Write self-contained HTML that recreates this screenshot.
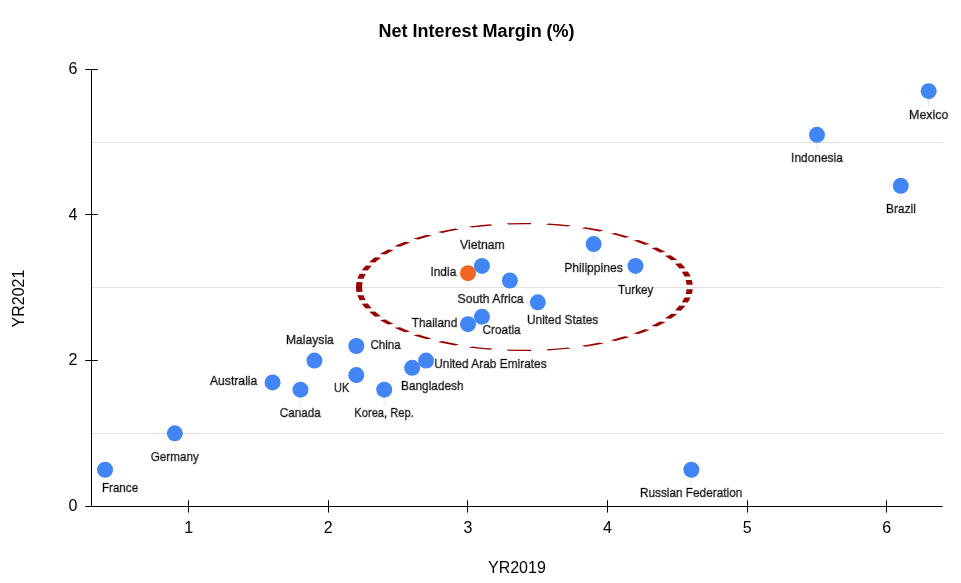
<!DOCTYPE html>
<html><head><meta charset="utf-8"><title>Net Interest Margin (%)</title>
<style>
html,body{margin:0;padding:0;background:#fff;}
body{width:961px;height:583px;overflow:hidden;}
svg{display:block;}
text{font-family:"Liberation Sans",sans-serif;}
.lab{font-size:12.4px;fill:#000;stroke:#000;stroke-width:0.7px;}
.tick{font-size:16px;fill:#000;}
.axt{font-size:16px;fill:#000;}
.ttl{font-size:18px;font-weight:bold;fill:#000;}
</style></head><body>
<svg width="961" height="583" viewBox="0 0 961 583">
<rect width="961" height="583" fill="#fff"/>
<text class="ttl" x="378.6" y="36.8">Net Interest Margin (%)</text>
<rect x="92" y="433" width="850.6" height="1" fill="#e2e2e2"/>
<rect x="92" y="287" width="850.6" height="1" fill="#e2e2e2"/>
<rect x="92" y="142" width="850.6" height="1" fill="#e2e2e2"/>
<rect x="174.24" y="433.40" width="1" height="16.00" fill="#e9e9e9"/>
<rect x="299.88" y="389.72" width="1" height="16.00" fill="#e9e9e9"/>
<rect x="383.64" y="389.72" width="1" height="16.00" fill="#e9e9e9"/>
<rect x="593.04" y="244.12" width="1" height="16.00" fill="#e9e9e9"/>
<rect x="634.92" y="265.96" width="1" height="16.00" fill="#e9e9e9"/>
<rect x="690.76" y="469.80" width="1" height="16.00" fill="#e9e9e9"/>
<rect x="816.40" y="134.92" width="1" height="16.00" fill="#e9e9e9"/>
<rect x="900.16" y="185.88" width="1" height="16.00" fill="#e9e9e9"/>
<rect x="928.08" y="91.24" width="1" height="16.00" fill="#e9e9e9"/>
<g transform="translate(524.4,287.0) scale(4.86,1)"><path d="M -34.02,0 A 34.02 63.4 0 0 1 34.02,0 M -34.02,0 A 34.02 63.4 0 0 0 34.02,0" fill="none" stroke="#990000" stroke-width="1.26" stroke-dasharray="4.9 3.4"/></g>
<rect x="91" y="69" width="1" height="438" fill="#000"/>
<rect x="85.2" y="506" width="857.4" height="1" fill="#000"/>
<rect x="85.2" y="360" width="12.6" height="1" fill="#000"/>
<rect x="85.2" y="214" width="12.6" height="1" fill="#000"/>
<rect x="85.2" y="69" width="12.6" height="1" fill="#000"/>
<rect x="188" y="500.3" width="1" height="12.3" fill="#000"/>
<rect x="328" y="500.3" width="1" height="12.3" fill="#000"/>
<rect x="467" y="500.3" width="1" height="12.3" fill="#000"/>
<rect x="607" y="500.3" width="1" height="12.3" fill="#000"/>
<rect x="747" y="500.3" width="1" height="12.3" fill="#000"/>
<rect x="886" y="500.3" width="1" height="12.3" fill="#000"/>
<text class="tick" x="77.4" y="511" text-anchor="end">0</text>
<text class="tick" x="77.4" y="365" text-anchor="end">2</text>
<text class="tick" x="77.4" y="220" text-anchor="end">4</text>
<text class="tick" x="77.4" y="74" text-anchor="end">6</text>
<text class="tick" x="188.70" y="533" text-anchor="middle">1</text>
<text class="tick" x="328.30" y="533" text-anchor="middle">2</text>
<text class="tick" x="467.90" y="533" text-anchor="middle">3</text>
<text class="tick" x="607.50" y="533" text-anchor="middle">4</text>
<text class="tick" x="747.10" y="533" text-anchor="middle">5</text>
<text class="tick" x="886.70" y="533" text-anchor="middle">6</text>
<text class="axt" x="516.9" y="572.8" text-anchor="middle">YR2019</text>
<text class="axt" transform="translate(24.4,298.5) rotate(-90)" text-anchor="middle">YR2021</text>
<circle cx="105.04" cy="469.75" r="8" fill="#4285f4"/>
<circle cx="174.84" cy="433.35" r="8" fill="#4285f4"/>
<circle cx="272.56" cy="382.39" r="8" fill="#4285f4"/>
<circle cx="300.48" cy="389.67" r="8" fill="#4285f4"/>
<circle cx="314.44" cy="360.55" r="8" fill="#4285f4"/>
<circle cx="356.32" cy="375.11" r="8" fill="#4285f4"/>
<circle cx="356.32" cy="345.99" r="8" fill="#4285f4"/>
<circle cx="384.24" cy="389.67" r="8" fill="#4285f4"/>
<circle cx="412.16" cy="367.83" r="8" fill="#4285f4"/>
<circle cx="426.12" cy="360.55" r="8" fill="#4285f4"/>
<circle cx="468.00" cy="324.15" r="8" fill="#4285f4"/>
<circle cx="468.00" cy="273.19" r="8" fill="#f26522"/>
<circle cx="481.96" cy="316.87" r="8" fill="#4285f4"/>
<circle cx="481.96" cy="265.91" r="8" fill="#4285f4"/>
<circle cx="509.88" cy="280.47" r="8" fill="#4285f4"/>
<circle cx="537.80" cy="302.31" r="8" fill="#4285f4"/>
<circle cx="593.64" cy="244.07" r="8" fill="#4285f4"/>
<circle cx="635.52" cy="265.91" r="8" fill="#4285f4"/>
<circle cx="691.36" cy="469.75" r="8" fill="#4285f4"/>
<circle cx="817.00" cy="134.87" r="8" fill="#4285f4"/>
<circle cx="900.76" cy="185.83" r="8" fill="#4285f4"/>
<circle cx="928.68" cy="91.19" r="8" fill="#4285f4"/>
<defs><filter id="halo" x="0" y="0" width="961" height="583" filterUnits="userSpaceOnUse"><feMorphology in="SourceAlpha" operator="dilate" radius="1" result="d"/><feFlood flood-color="#fff"/><feComposite in2="d" operator="in" result="h"/><feMerge><feMergeNode in="h"/><feMergeNode in="SourceGraphic"/></feMerge></filter></defs>
<g filter="url(#halo)">
<text class="lab" x="101.90" y="491.50" textLength="36.25" lengthAdjust="spacingAndGlyphs">France</text>
<text class="lab" x="150.70" y="460.50" textLength="48.10" lengthAdjust="spacingAndGlyphs">Germany</text>
<text class="lab" x="210.00" y="384.50" textLength="47.30" lengthAdjust="spacingAndGlyphs">Australia</text>
<text class="lab" x="279.70" y="416.75" textLength="41.10" lengthAdjust="spacingAndGlyphs">Canada</text>
<text class="lab" x="286.00" y="343.50" textLength="47.85" lengthAdjust="spacingAndGlyphs">Malaysia</text>
<text class="lab" x="370.40" y="348.70" textLength="30.40" lengthAdjust="spacingAndGlyphs">China</text>
<text class="lab" x="334.00" y="392.00" textLength="15.30" lengthAdjust="spacingAndGlyphs">UK</text>
<text class="lab" x="354.30" y="416.75" textLength="59.50" lengthAdjust="spacingAndGlyphs">Korea, Rep.</text>
<text class="lab" x="401.10" y="389.65" textLength="62.40" lengthAdjust="spacingAndGlyphs">Bangladesh</text>
<text class="lab" x="434.20" y="368.00" textLength="112.50" lengthAdjust="spacingAndGlyphs">United Arab Emirates</text>
<text class="lab" x="411.70" y="326.60" textLength="45.60" lengthAdjust="spacingAndGlyphs">Thailand</text>
<text class="lab" x="482.60" y="333.80" textLength="38.00" lengthAdjust="spacingAndGlyphs">Croatia</text>
<text class="lab" x="460.00" y="248.60" textLength="44.80" lengthAdjust="spacingAndGlyphs">Vietnam</text>
<text class="lab" x="430.40" y="275.90" textLength="25.90" lengthAdjust="spacingAndGlyphs">India</text>
<text class="lab" x="457.50" y="302.80" textLength="66.20" lengthAdjust="spacingAndGlyphs">South Africa</text>
<text class="lab" x="527.00" y="323.50" textLength="71.20" lengthAdjust="spacingAndGlyphs">United States</text>
<text class="lab" x="564.20" y="271.60" textLength="58.60" lengthAdjust="spacingAndGlyphs">Philippines</text>
<text class="lab" x="618.10" y="293.60" textLength="35.30" lengthAdjust="spacingAndGlyphs">Turkey</text>
<text class="lab" x="639.90" y="497.20" textLength="102.40" lengthAdjust="spacingAndGlyphs">Russian Federation</text>
<text class="lab" x="791.10" y="162.00" textLength="51.70" lengthAdjust="spacingAndGlyphs">Indonesia</text>
<text class="lab" x="886.10" y="212.80" textLength="29.80" lengthAdjust="spacingAndGlyphs">Brazil</text>
<text class="lab" x="909.10" y="118.70" textLength="39.20" lengthAdjust="spacingAndGlyphs">Mexico</text>
</g>
</svg>
</body></html>
